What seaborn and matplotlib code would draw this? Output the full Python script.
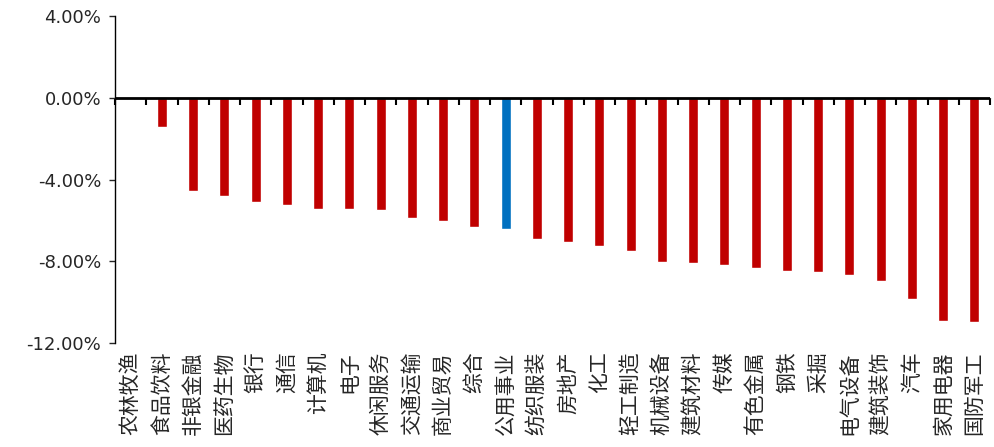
import numpy as np
import seaborn as sns
import matplotlib.pyplot as plt
from matplotlib.ticker import FuncFormatter

# 行业涨跌幅 (%)
industries = ['农林牧渔', '食品饮料', '非银金融', '医药生物', '银行', '通信', '计算机', '电子',
              '休闲服务', '交通运输', '商业贸易', '综合', '公用事业', '纺织服装', '房地产', '化工',
              '轻工制造', '机械设备', '建筑材料', '传媒', '有色金属', '钢铁', '采掘', '电气设备',
              '建筑装饰', '汽车', '家用电器', '国防军工']
returns = [-0.03, -1.42, -4.58, -4.80, -5.08, -5.23, -5.45, -5.45,
           -5.50, -5.86, -6.02, -6.33, -6.41, -6.89, -7.08, -7.26,
           -7.50, -8.04, -8.09, -8.17, -8.35, -8.46, -8.51, -8.67,
           -8.98, -9.84, -10.94, -10.95]
highlight = '公用事业'
yticks = [4, 0, -4, -8, -12]

sns.set_style('ticks')
plt.rcParams['font.family'] = ['Noto Sans CJK SC', 'DejaVu Sans']
plt.rcParams['axes.unicode_minus'] = False

palette = {c: ('#0070C0' if c == highlight else '#C00000') for c in industries}

fig = plt.figure(figsize=(9.95, 4.47), dpi=100)
ax = fig.add_axes([0.1156, 0.2327, 0.8794, 0.7313])
sns.barplot(x=industries, y=returns, hue=industries, palette=palette, width=0.32,
            legend=False, saturation=1, ax=ax)

ax.set_xlim(-0.5, len(industries) - 0.5)
ax.set_ylim(-12, 4)
ax.set_yticks(yticks)
ax.yaxis.set_major_formatter(FuncFormatter(lambda v, p: f'{v:.2f}%'))
for lab in ax.get_yticklabels():
    lab.set_family(['DejaVu Sans'])
    lab.set_fontsize(13)
ax.tick_params(axis='y', direction='out', length=4, width=1, pad=6)
ax.tick_params(axis='x', length=0, pad=6, labelsize=15, rotation=90)
ax.set_xlabel('')
ax.set_ylabel('')

for s in ['top', 'right', 'bottom']:
    ax.spines[s].set_visible(False)
ax.spines['left'].set_linewidth(1)
ax.spines['left'].set_color('black')

# zero line with category boundary ticks
ax.axhline(0, color='black', lw=2, zorder=5)
zero_ax = ax.secondary_xaxis(0.75)
zero_ax.set_xticks(np.arange(-0.5, len(industries), 1.0))
zero_ax.set_xticklabels([])
zero_ax.tick_params(axis='x', which='both', direction='out', length=5, width=1.5,
                    color='black', top=False, bottom=True)
zero_ax.spines['bottom'].set_linewidth(2)
zero_ax.spines['bottom'].set_color('black')

plt.savefig('out.png', dpi=100)
plt.close()
